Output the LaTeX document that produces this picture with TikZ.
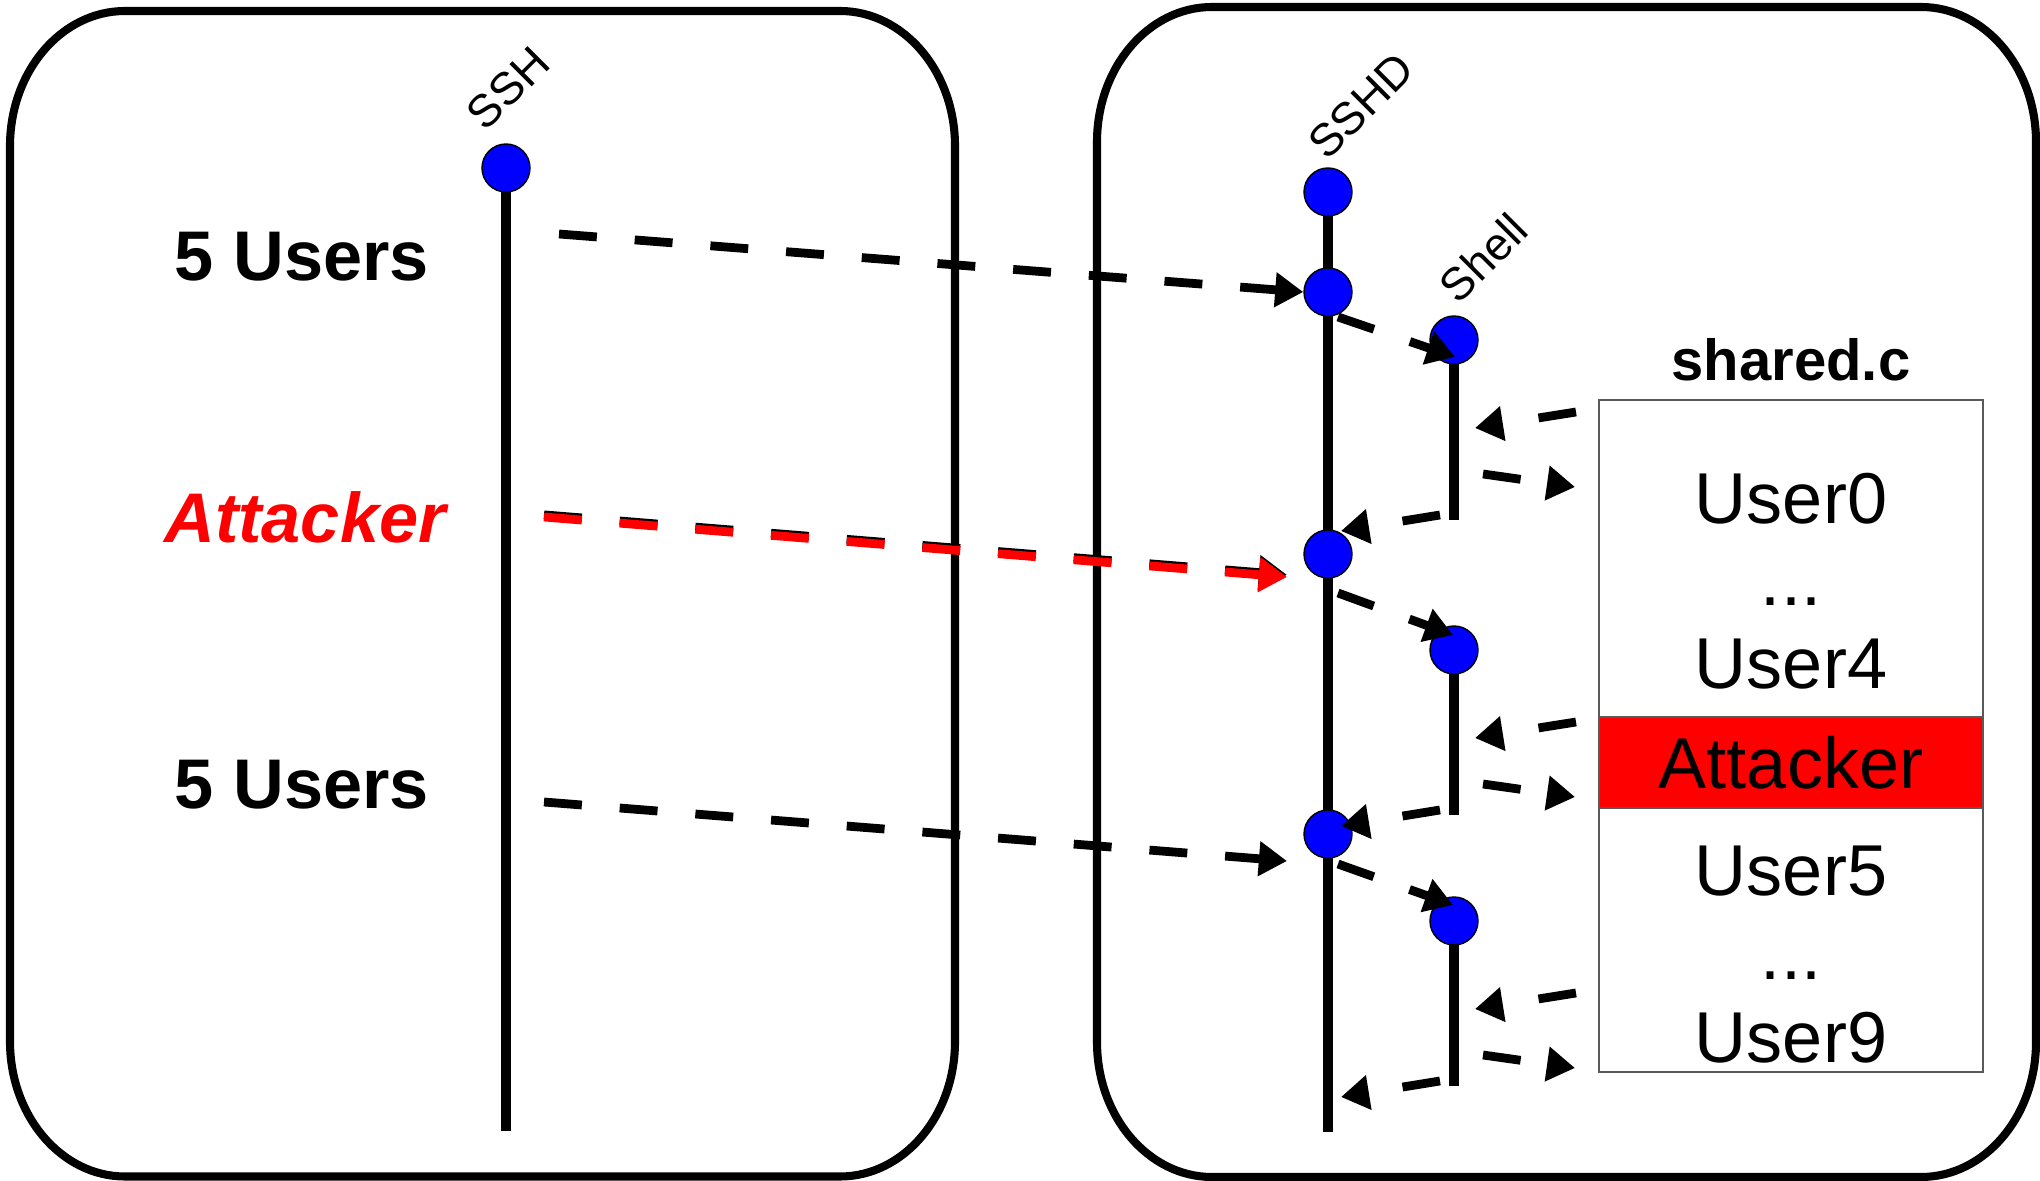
\documentclass[tikz,border=0pt]{standalone}
\usepackage{fontspec}
\setmainfont{Liberation Sans}
\usetikzlibrary{positioning, arrows.meta, backgrounds}
\definecolor{cDot}{RGB}{0, 0, 255}
\definecolor{cAttack}{RGB}{255, 0, 0}
\definecolor{cFrame}{RGB}{90, 90, 90}

\begin{document}
\begin{tikzpicture}[
    dot/.style={circle, fill=cDot, draw=black, line width=0.4pt, minimum size=0.48cm, inner sep=0pt},
    lifeline/.style={line width=3pt},
    hostline/.style={line width=2.3pt},
    flow/.style={line width=2.5pt, dash pattern=on 10.8pt off 10.8pt, -{Triangle[length=8pt, width=9.5pt]}},
    proc/.style={rotate=45, font=\fontsize{13pt}{15pt}\selectfont},
    side/.style={anchor=base, font=\fontsize{20pt}{24pt}\selectfont\bfseries},
    row/.style={anchor=base, font=\fontsize{20.5pt}{24pt}\selectfont}
]
    \useasboundingbox (0,0) rectangle (20.4,11.8);

    % --- Makro: Rechner-Rahmen mit runden Ecken ---
    \newcommand{\hostbox}[4]{
        \draw[hostline] (#1+1.15,#2) -- (#3-1.15,#2)
            arc[start angle=-90, end angle=0, x radius=1.15, y radius=1.35]
            -- (#3,#4-1.35)
            arc[start angle=0, end angle=90, x radius=1.15, y radius=1.35]
            -- (#1+1.15,#4)
            arc[start angle=90, end angle=180, x radius=1.15, y radius=1.35]
            -- (#1,#2+1.35)
            arc[start angle=180, end angle=270, x radius=1.15, y radius=1.35]
            -- cycle;
    }

    % --- Client (links) ---
    \node[dot] (ssh) at (5.06, 10.12) {};
    \node[proc] (sshlabel) at ([shift={(0.02,0.80)}]ssh.center) {SSH};
    \coordinate (sshend) at (5.06, 0.49);

    \node[side] (users1) at (3.02, 8.99) {5 Users};
    \node[side, text=cAttack, font=\fontsize{20pt}{24pt}\selectfont\bfseries\itshape] (attacker) at (3.05, 6.37) {Attacker};
    \node[side] (users2) at (3.02, 3.71) {5 Users};

    % --- Server (rechts) ---
    \node[dot] (sshd0) at (13.28, 9.88) {};
    \node[proc] (sshdlabel) at ([shift={(0.33,0.86)}]sshd0.center) {SSHD};
    \node[dot] (sshd1) at (13.28, 8.88) {};
    \node[dot] (sshd2) at (13.28, 6.26) {};
    \node[dot] (sshd3) at (13.28, 3.46) {};
    \coordinate (sshdend) at (13.28, 0.48);

    % Shells
    \foreach \i/\ypos/\len in {1/8.40/1.80, 2/5.30/1.65, 3/2.59/1.65} {
        \node[dot] (shell\i) at (14.54, \ypos) {};
        \coordinate (shellend\i) at (14.54, \ypos-\len);
    }
    \node[proc] (shelllabel) at ([shift={(0.29,0.82)}]shell1.center) {Shell};

    % shared.c mit den Eintraegen
    \node[draw=cFrame, line width=0.6pt, minimum width=3.84cm, minimum height=6.72cm, inner sep=0pt] (shared) at (17.91, 4.44) {};
    \node[draw=cFrame, fill=cAttack, line width=0.6pt, minimum width=3.84cm, minimum height=0.91cm, inner sep=0pt,
          font=\fontsize{20.5pt}{24pt}\selectfont] (attackrow) at (17.91, 4.175) {Attacker};
    \node[above=0.17cm of shared, inner sep=0pt, font=\fontsize{16.5pt}{20pt}\selectfont\bfseries] (sharedlabel) {shared.c};

    \node[row] (user0) at (17.91, 6.56) {User0};
    \node[row] (gap1) at (17.91, 5.74) {...};
    \node[row] (user4) at (17.91, 4.91) {User4};
    \node[row] (user5) at (17.91, 2.84) {User5};
    \node[row] (gap2) at (17.91, 2.01) {...};
    \node[row] (user9) at (17.91, 1.18) {User9};

    % Rahmen und Lebenslinien im Hintergrund
    \begin{scope}[on background layer]
        \hostbox{0.10}{0.035}{9.55}{11.69}
        \hostbox{10.97}{0.03}{20.36}{11.73}
        \draw[lifeline] (ssh.center) -- (sshend);
        \draw[lifeline] (sshd0.center) -- (sshdend);
        \foreach \i in {1,2,3} {
            \draw[lifeline] (shell\i.center) -- (shellend\i);
        }
    \end{scope}

    % --- Verbindungen Client -> SSHD ---
    \coordinate (u1out) at (5.59, 9.46);
    \coordinate (atkout) at (5.44, 6.63);
    \coordinate (u2out) at (5.44, 3.78);
    \draw[flow] (u1out) -- (sshd1.west);
    \draw[flow, draw=cAttack, preaction={flow, draw=black, transform canvas={yshift=0.6pt}}] (atkout) -- ([shift={(-0.41,-0.23)}]sshd2.center);
    \draw[flow] (u2out) -- ([shift={(-0.41,-0.27)}]sshd3.center);

    % SSHD startet Shell
    \draw[flow] ([shift={(0.10,-0.25)}]sshd1.center) -- ([shift={(0.01,-0.17)}]shell1.center);
    \draw[flow] ([shift={(0.10,-0.39)}]sshd2.center) -- ([shift={(-0.01,0.15)}]shell2.center);
    \draw[flow] ([shift={(0.10,-0.30)}]sshd3.center) -- ([shift={(-0.01,0.16)}]shell3.center);

    % Shell <-> shared.c, dann zurueck zu SSHD
    \foreach \i in {1,2,3} {
        \draw[flow] ([shift={(1.22,-0.72)}]shell\i.center) -- ([shift={(0.21,-0.88)}]shell\i.center);
        \draw[flow] ([shift={(0.29,-1.34)}]shell\i.center) -- ([shift={(1.21,-1.47)}]shell\i.center);
        \draw[flow] ([shift={(-0.14,0.05)}]shellend\i) -- ([shift={(-1.13,-0.11)}]shellend\i);
    }

\end{tikzpicture}
\end{document}
